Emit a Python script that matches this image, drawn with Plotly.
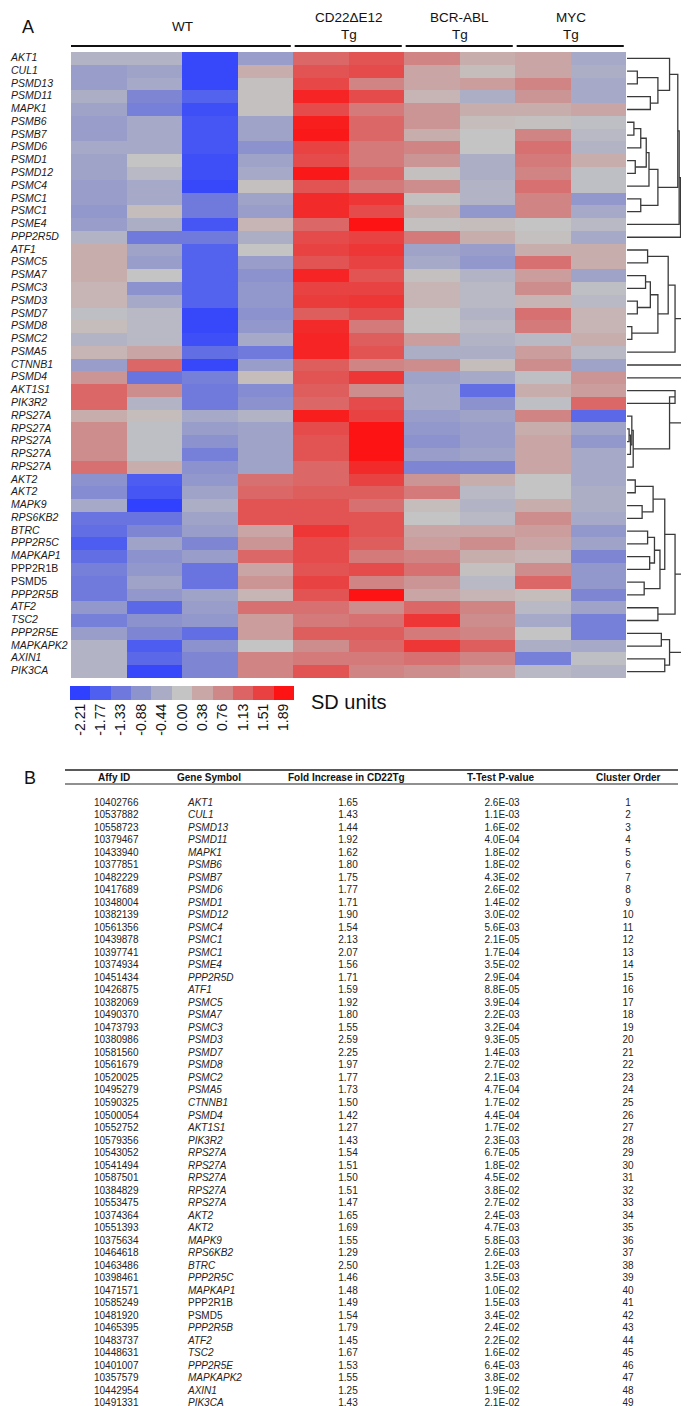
import plotly.graph_objects as go

W, H = 689, 1406
FONT = "Liberation Sans, Arial, sans-serif"

# ---------------- data ----------------
genes = ["AKT1", "CUL1", "PSMD13", "PSMD11", "MAPK1", "PSMB6", "PSMB7", "PSMD6", "PSMD1", "PSMD12",
         "PSMC4", "PSMC1", "PSMC1", "PSME4", "PPP2R5D", "ATF1", "PSMC5", "PSMA7", "PSMC3", "PSMD3",
         "PSMD7", "PSMD8", "PSMC2", "PSMA5", "CTNNB1", "PSMD4", "AKT1S1", "PIK3R2", "RPS27A", "RPS27A",
         "RPS27A", "RPS27A", "RPS27A", "AKT2", "AKT2", "MAPK9", "RPS6KB2", "BTRC", "PPP2R5C", "MAPKAP1",
         "PPP2R1B", "PSMD5", "PPP2R5B", "ATF2", "TSC2", "PPP2R5E", "MAPKAPK2", "AXIN1", "PIK3CA"]
upright_genes = {"PPP2R1B", "PSMD5"}

group_names = ["WT", "CD22ΔE12", "BCR-ABL", "MYC"]
group_suffix = ["", "Tg", "Tg", "Tg"]
group_sizes = [4, 2, 2, 2]

wt = [[-0.3, -0.3, -2.1, -0.7], [-0.7, -0.6, -2.1, 0.3], [-0.7, -0.5, -2.1, 0.05], [-0.4, -1.1, -1.7, 0.05],
      [-0.6, -1.2, -2.0, 0.05], [-0.7, -0.5, -1.9, -0.6], [-0.7, -0.5, -1.9, -0.6], [-0.5, -0.5, -1.9, -0.9],
      [-0.6, 0.0, -2.0, -0.6], [-0.6, -0.2, -2.0, -0.5], [-0.7, -0.5, -2.1, 0.05], [-0.7, -0.5, -1.3, -0.6],
      [-0.8, 0.1, -1.3, -0.7], [-0.7, -0.4, -1.9, 0.2], [-0.3, -1.3, -1.3, -0.4], [0.3, -0.6, -1.7, 0.0],
      [0.3, -0.7, -1.7, -0.7], [0.3, 0.0, -1.7, -0.9], [0.2, -0.9, -1.7, -0.8], [0.2, -0.5, -1.7, -0.8],
      [-0.1, -0.2, -2.1, -0.9], [0.1, -0.2, -2.1, -0.8], [-0.3, -0.2, -2.0, -0.5], [0.2, 0.4, -1.5, -1.3],
      [-0.7, 1.1, -2.1, -0.7], [0.6, -1.4, -1.2, 0.1], [1.1, 0.7, -1.3, -1.0], [1.1, -0.3, -1.3, -0.9],
      [0.3, 0.1, -0.5, -0.3], [0.7, -0.1, -0.7, -0.6], [0.7, -0.1, -0.9, -0.6], [0.7, -0.1, -1.2, -0.6],
      [1.0, 0.3, -0.9, -0.6], [-0.9, -1.8, -0.8, 1.0], [-1.0, -1.9, -0.6, 1.1], [-0.5, -2.2, -0.4, 1.3],
      [-1.4, -1.4, -0.6, 1.3], [-1.5, -1.1, -0.7, 0.4], [-1.8, -0.6, -1.1, 0.6], [-1.5, -0.9, -0.7, 1.1],
      [-1.2, -0.8, -1.4, 0.4], [-1.3, -0.6, -1.4, 0.6], [-1.3, -0.8, -0.6, 0.2], [-0.8, -1.6, -0.7, 1.0],
      [-1.2, -0.9, -0.8, 0.5], [-0.7, -1.1, -1.5, 0.5], [-0.3, -1.8, -0.9, 0.0], [-0.3, -1.6, -1.1, 0.8],
      [-0.3, -2.1, -1.1, 0.8]]

cd22 = [[1.1, 1.3], [1.3, 1.4], [1.45, 0.8], [1.75, 1.4], [1.4, 0.9], [1.8, 1.1], [1.85, 1.1], [1.5, 0.9],
        [1.4, 0.9], [1.85, 1.1], [1.3, 0.9], [1.7, 1.6], [1.7, 1.4], [1.1, 1.89], [1.4, 1.5], [1.5, 1.6],
        [1.3, 1.5], [1.75, 1.3], [1.5, 1.5], [1.55, 1.6], [1.2, 1.4], [1.7, 0.9], [1.75, 1.2], [1.75, 1.3],
        [1.2, 0.8], [1.3, 1.6], [1.2, 0.7], [1.1, 1.4], [1.8, 1.5], [1.4, 1.89], [1.3, 1.89], [1.3, 1.89],
        [1.1, 1.7], [1.1, 1.5], [1.2, 1.2], [1.3, 1.0], [1.3, 1.3], [1.6, 1.3], [1.4, 1.2], [1.4, 0.9],
        [1.3, 1.4], [1.5, 0.8], [1.3, 1.89], [1.0, 0.7], [0.9, 1.0], [1.2, 1.2], [0.7, 1.1], [0.9, 0.9],
        [1.3, 0.8]]

bcr = [[0.8, 0.3], [0.4, 0.1], [0.4, 0.5], [0.2, -0.4], [0.6, 0.3], [0.6, 0.1], [0.3, 0.0], [0.8, 0.0],
       [0.6, -0.4], [0.05, -0.4], [0.7, -0.3], [0.05, -0.3], [0.3, -0.8], [0.05, 0.1], [0.9, 0.3],
       [-0.6, -0.7], [-0.5, -0.8], [0.05, -0.3], [0.2, -0.2], [0.2, -0.2], [0.0, -0.3], [0.0, -0.2],
       [0.5, -0.3], [-0.4, -0.4], [0.7, 0.1], [-0.6, -0.5], [-0.5, -1.5], [-0.5, -0.9], [-0.7, -0.6],
       [-0.8, -0.7], [-0.9, -0.7], [-0.7, -0.6], [-1.1, -1.1], [0.6, 0.3], [0.9, -0.2], [0.1, -0.3],
       [0.0, -0.2], [0.4, 0.4], [0.5, 0.7], [0.8, 0.3], [1.0, 0.05], [0.6, -0.2], [0.4, 0.2], [1.1, 0.8],
       [1.6, 0.7], [0.9, 0.8], [1.6, 1.2], [1.0, 0.8], [0.7, 0.5]]

myc = [[0.4, -0.5], [0.4, -0.4], [0.8, -0.5], [0.6, -0.5], [0.3, 0.4], [0.05, -0.1], [0.8, -0.2], [1.0, -0.3],
       [0.9, 0.3], [0.8, -0.1], [1.0, -0.1], [0.8, -0.8], [0.8, -0.5], [0.0, -0.2], [0.05, -0.5], [0.3, 0.3],
       [1.0, 0.3], [0.5, -0.6], [0.7, -0.1], [0.2, -0.2], [1.0, 0.2], [0.9, 0.2], [-0.2, 0.3], [0.5, -0.2],
       [0.7, -0.6], [-0.1, 0.6], [0.3, 0.5], [-0.1, 1.1], [0.8, -1.6], [0.3, -0.6], [0.4, -0.8], [0.4, -0.5],
       [0.4, -0.5], [0.0, -0.5], [0.0, -0.4], [0.3, -0.4], [0.7, -0.5], [0.5, -0.8], [0.4, -0.6], [0.2, -1.1],
       [0.7, -0.8], [1.1, -0.8], [0.1, -1.1], [-0.2, -0.6], [-0.5, -1.2], [0.0, -1.2], [-0.4, -0.5],
       [-1.2, -0.1], [-0.2, -0.3]]

legend_ticks = [-2.21, -1.77, -1.33, -0.88, -0.44, 0.00, 0.38, 0.76, 1.13, 1.51, 1.89]
legend_colors = ["#2f40ff", "#4f5ff0", "#6e78dd", "#8d93cc", "#aaacc6", "#c4c4c4",
                 "#c9a7a7", "#cf8888", "#dc6464", "#e94141", "#fd1313"]

# dendrogram merges: (child_a, child_b, height); ids < 49 are rows, 49+k is merge k
dendro_merges = [
    (1, 2, 0.15), (3, 4, 0.34), (49, 50, 0.45), (0, 51, 0.62), (5, 6, 0.10), (53, 7, 0.20),
    (8, 9, 0.12), (54, 55, 0.28), (56, 10, 0.32), (11, 12, 0.20), (57, 58, 0.45), (52, 59, 0.74),
    (60, 13, 0.76), (61, 14, 0.78),
    (15, 16, 0.30), (17, 18, 0.27), (19, 20, 0.15), (64, 65, 0.34), (21, 22, 0.07), (66, 67, 0.45),
    (63, 68, 0.60), (69, 23, 0.70), (70, 24, 0.80), (71, 25, 0.84), (62, 72, 0.88),
    (26, 27, 0.70), (29, 30, 0.03), (75, 31, 0.05), (28, 76, 0.07), (77, 32, 0.09), (74, 78, 0.62),
    (73, 79, 0.90),
    (33, 34, 0.12), (35, 36, 0.22), (81, 82, 0.38), (37, 38, 0.30), (39, 40, 0.33), (84, 85, 0.40),
    (41, 42, 0.25), (86, 87, 0.48), (83, 88, 0.55), (43, 44, 0.45), (89, 90, 0.70), (45, 46, 0.50),
    (47, 48, 0.55), (92, 93, 0.62), (91, 94, 0.85), (80, 95, 1.00)]

affy_ids = ["10402766", "10537882", "10558723", "10379467", "10433940", "10377851", "10482229",
            "10417689", "10348004", "10382139", "10561356", "10439878", "10397741", "10374934",
            "10451434", "10426875", "10382069", "10490370", "10473793", "10380986", "10581560",
            "10561679", "10520025", "10495279", "10590325", "10500054", "10552752", "10579356",
            "10543052", "10541494", "10587501", "10384829", "10553475", "10374364", "10551393",
            "10375634", "10464618", "10463486", "10398461", "10471571", "10585249", "10481920",
            "10465395", "10483737", "10448631", "10401007", "10357579", "10442954", "10491331"]
fold_increase = [1.65, 1.43, 1.44, 1.92, 1.62, 1.80, 1.75, 1.77, 1.71, 1.90, 1.54, 2.13, 2.07, 1.56,
                 1.71, 1.59, 1.92, 1.80, 1.55, 2.59, 2.25, 1.97, 1.77, 1.73, 1.50, 1.42, 1.27, 1.43,
                 1.54, 1.51, 1.50, 1.51, 1.47, 1.65, 1.69, 1.55, 1.29, 2.50, 1.46, 1.48, 1.49, 1.54,
                 1.79, 1.45, 1.67, 1.53, 1.55, 1.25, 1.43]
p_values = ["2.6E-03", "1.1E-03", "1.6E-02", "4.0E-04", "1.8E-02", "1.8E-02", "4.3E-02", "2.6E-02",
            "1.4E-02", "3.0E-02", "5.6E-03", "2.1E-05", "1.7E-04", "3.5E-02", "2.9E-04", "8.8E-05",
            "3.9E-04", "2.2E-03", "3.2E-04", "9.3E-05", "1.4E-03", "2.7E-02", "2.1E-03", "4.7E-04",
            "1.7E-02", "4.4E-04", "1.7E-02", "2.3E-03", "6.7E-05", "1.8E-02", "4.5E-02", "3.8E-02",
            "2.7E-02", "2.4E-03", "4.7E-03", "5.8E-03", "2.6E-03", "1.2E-03", "3.5E-03", "1.0E-02",
            "1.5E-03", "3.4E-02", "2.4E-02", "2.2E-02", "1.6E-02", "6.4E-03", "3.8E-02", "1.9E-02",
            "2.1E-02"]
cluster_order = [1, 2, 3, 4, 5, 6, 7, 8, 9, 10, 11, 12, 13, 14, 15, 16, 17, 18, 19, 20, 21, 22, 23, 24,
                 25, 26, 27, 28, 29, 30, 31, 32, 33, 34, 35, 36, 37, 38, 39, 40, 41, 42, 43, 44, 45, 46,
                 47, 48, 49]
table_headers = ["Affy ID", "Gene Symbol", "Fold Increase in CD22Tg", "T-Test P-value", "Cluster Order"]

# ---------------- layout helpers ----------------
def px(x):
    return x / W


def py(y):
    return 1 - y / H


HM_L, HM_R, HM_T, HM_B = 63, 618, 44, 670
TB_FIRST, TB_STEP, TB_TOP = 795, 12.52, 783
n = len(genes)

z = [wt[i] + cd22[i] + bcr[i] + myc[i] for i in range(n)]
zmin, zmax = legend_ticks[0], legend_ticks[-1]
cscale = [[(v - zmin) / (zmax - zmin), c] for v, c in zip(legend_ticks, legend_colors)]

fig = go.Figure()

fig.add_trace(go.Heatmap(z=z, x=list(range(10)), y=list(range(n)), colorscale=cscale,
                         zmin=zmin, zmax=zmax, showscale=False, hoverinfo="skip",
                         xaxis="x", yaxis="y"))

# gene labels
fig.add_trace(go.Scatter(x=[3] * n, y=list(range(n)), mode="text",
                         text=[g if g in upright_genes else f"<i>{g}</i>" for g in genes],
                         textposition="middle right", cliponaxis=False,
                         textfont=dict(family=FONT, size=10.5, color="#1a1a1a"),
                         hoverinfo="skip", xaxis="x5", yaxis="y", showlegend=False))

# dendrogram
pos = {i: (0.0, float(i)) for i in range(n)}
dx, dy = [], []
for k, (a, b, h) in enumerate(dendro_merges):
    ha, ya = pos[a]
    hb, yb = pos[b]
    dx += [ha, h, h, hb, None]
    dy += [ya, ya, yb, yb, None]
    pos[n + k] = (h, (ya + yb) / 2)
fig.add_trace(go.Scatter(x=dx, y=dy, mode="lines", line=dict(color="#3a3a3a", width=1.3),
                         hoverinfo="skip", xaxis="x3", yaxis="y", showlegend=False))

# legend swatches
fig.add_trace(go.Heatmap(z=[legend_ticks], x=list(range(len(legend_ticks))), y=[0],
                         colorscale=cscale, zmin=zmin, zmax=zmax, showscale=False,
                         hoverinfo="skip", xaxis="x2", yaxis="y2"))

# table
rows = list(range(n))
tf = dict(family=FONT, size=10, color="#222222")
common = dict(mode="text", textfont=tf, hoverinfo="skip", xaxis="x4", yaxis="y4",
              showlegend=False, cliponaxis=False)
fig.add_trace(go.Scatter(x=[86] * n, y=rows, text=affy_ids, textposition="middle right", **common))
fig.add_trace(go.Scatter(x=[180] * n, y=rows,
                         text=[g if g in upright_genes else f"<i>{g}</i>" for g in genes],
                         textposition="middle right", **common))
fig.add_trace(go.Scatter(x=[340] * n, y=rows, text=[f"{v:.2f}" for v in fold_increase],
                         textposition="middle center", **common))
fig.add_trace(go.Scatter(x=[494] * n, y=rows, text=p_values, textposition="middle center", **common))
fig.add_trace(go.Scatter(x=[620] * n, y=rows, text=[str(c) for c in cluster_order],
                         textposition="middle center", **common))

annotations = []
shapes = []


def ann(x, y, text, size, xref="paper", xanchor="center", bold=False):
    annotations.append(dict(x=x, y=y, xref=xref, yref="paper", text=f"<b>{text}</b>" if bold else text,
                            showarrow=False, xanchor=xanchor, yanchor="middle",
                            font=dict(family=FONT, size=size, color="#111")))


# group headers
start = 0
for name, suf, size in zip(group_names, group_suffix, group_sizes):
    center = start + (size - 1) / 2
    if suf:
        ann(center, py(9.5), name, 13.5, xref="x")
        ann(center, py(26.5), suf, 13.5, xref="x")
    else:
        ann(center, py(19), name, 13.5, xref="x")
    x0 = start - 0.5 + (0.0 if start == 0 else 0.03)
    x1 = start + size - 0.5 - 0.04
    shapes.append(dict(type="line", xref="x", yref="paper", x0=x0, x1=x1, y0=py(38), y1=py(38),
                       line=dict(color="#111", width=2)))
    start += size

ann(px(20), py(19), "A", 18)
ann(px(22), py(770), "B", 18)
ann(px(301), py(694), "SD units", 20, xanchor="left")

header_x = [106, 201, 338, 492, 620]
for hx, ht in zip(header_x, table_headers):
    ann(px(hx), py(769.5), ht, 10, bold=True)
for yy, lw in [(762, 1.5), (776, 1.2)]:
    shapes.append(dict(type="line", xref="paper", yref="paper", x0=px(57), x1=px(670),
                       y0=py(yy), y1=py(yy), line=dict(color="#222", width=lw)))

hidden = dict(visible=False, showgrid=False, zeroline=False, fixedrange=True)
fig.update_layout(
    width=W, height=H, margin=dict(l=0, r=0, t=0, b=0),
    paper_bgcolor="white", plot_bgcolor="rgba(0,0,0,0)", showlegend=False,
    font=dict(family=FONT),
    xaxis=dict(hidden, domain=[px(HM_L), px(HM_R)], range=[-0.5, 9.5], anchor="y"),
    yaxis=dict(hidden, domain=[py(HM_B), py(HM_T)], range=[n - 0.5, -0.5], anchor="x"),
    xaxis2=dict(domain=[px(62), px(286)], range=[-0.5, 10.5], anchor="y2",
                tickvals=list(range(len(legend_ticks))),
                ticktext=[f"{v:.2f}" for v in legend_ticks], tickangle=-90,
                tickfont=dict(family=FONT, size=14, color="#111"),
                showgrid=False, zeroline=False, showline=False, ticks="", fixedrange=True),
    yaxis2=dict(hidden, domain=[py(692), py(678)], range=[-0.5, 0.5], anchor="x2"),
    xaxis3=dict(hidden, domain=[px(618), px(689)], range=[-0.015, 1.02], anchor="y"),
    xaxis4=dict(hidden, domain=[0, 1], range=[0, W], anchor="y4"),
    yaxis4=dict(hidden, domain=[0, py(TB_TOP)],
                range=[(H - TB_FIRST) / TB_STEP, (TB_TOP - TB_FIRST) / TB_STEP], anchor="x4"),
    xaxis5=dict(hidden, domain=[0, px(HM_L)], range=[0, HM_L], anchor="y"),
    annotations=annotations, shapes=shapes,
)

fig.write_html("out.html")
